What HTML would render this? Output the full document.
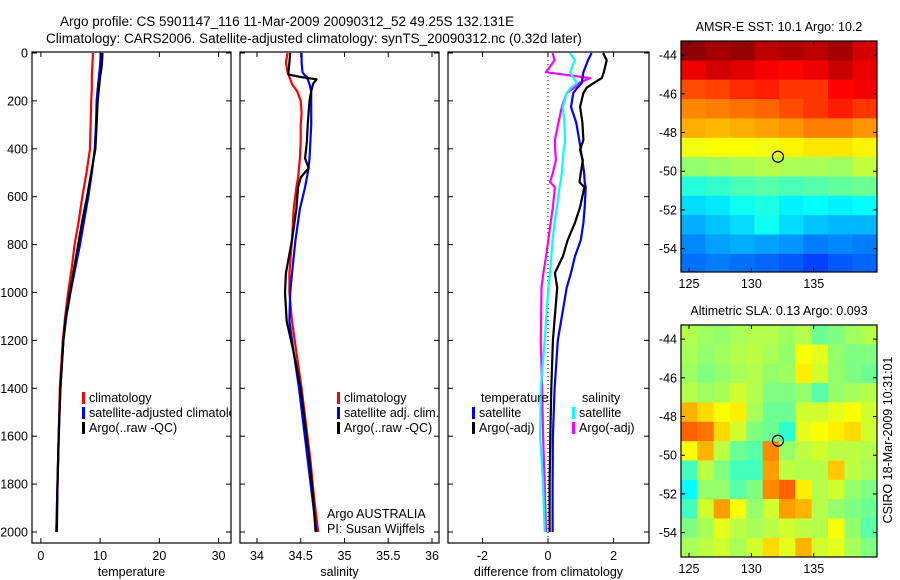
<!DOCTYPE html>
<html><head><meta charset="utf-8"><style>
body{margin:0;background:#fff;}
svg{display:block;font-family:"Liberation Sans",sans-serif;}
</style></head><body>
<svg id="fig" width="900" height="580" viewBox="0 0 900 580">
<rect width="900" height="580" fill="#fff"/>
<text x="60" y="26" font-size="13.5">Argo profile: CS 5901147_116 11-Mar-2009 20090312_52 49.25S 132.131E</text>
<text x="46" y="43" font-size="13.5">Climatology: CARS2006. Satellite-adjusted climatology: synTS_20090312.nc (0.32d later)</text>
<g id="maps"></g>
<g id="panels"></g>
</svg>
<script>
// ---- data ----
const tempDepth=[0,50,100,150,200,300,400,500,600,700,800,900,1000,1100,1200,1400,1600,1800,2000];
const tempClim=[8.8,8.7,8.6,8.6,8.5,8.4,8.3,7.7,7.0,6.4,5.7,5.2,4.6,4.1,3.7,3.2,3.0,2.8,2.6];
const tempSat=[10.1,10.0,9.8,9.6,9.4,9.3,9.1,8.6,8.0,7.3,6.6,5.8,5.0,4.3,3.8,3.3,3.0,2.8,2.6];
const tempArgo=[10.4,10.3,10.0,9.8,9.6,9.4,9.2,8.5,7.8,7.0,6.3,5.6,4.9,4.2,3.8,3.3,3.0,2.8,2.7];
const salDepth=[0,40,80,90,100,110,130,160,200,250,300,370,440,480,520,560,650,780,920,1000,1120,1250,1400,1550,1700,1850,2000];
const salClim=[34.35,34.33,34.35,34.36,34.37,34.38,34.40,34.46,34.50,34.51,34.50,34.50,34.49,34.48,34.47,34.45,34.42,34.40,34.37,34.37,34.40,34.45,34.51,34.56,34.61,34.65,34.70];
const salSat=[34.51,34.51,34.52,34.54,34.57,34.58,34.60,34.62,34.62,34.62,34.62,34.61,34.60,34.59,34.57,34.55,34.49,34.44,34.40,34.38,34.37,34.42,34.48,34.53,34.58,34.63,34.68];
const salArgo=[34.38,34.37,34.36,34.36,34.50,34.68,34.64,34.62,34.60,34.59,34.58,34.57,34.55,34.59,34.50,34.47,34.45,34.40,34.33,34.32,34.34,34.42,34.50,34.55,34.60,34.64,34.67];
const diffDepth=[0,30,80,105,125,145,167,225,290,363,405,447,500,539,560,643,710,781,850,918,980,1200,1400,1600,1800,2000];
const diffTempSat=[1.33,1.22,1.08,1.05,1.03,0.90,0.77,0.70,0.86,0.95,1.00,1.05,1.10,1.12,1.15,1.12,1.08,1.00,0.82,0.70,0.57,0.30,0.20,0.15,0.14,0.14];
const diffTempArgo=[1.68,1.79,1.70,1.64,1.40,1.18,1.08,0.98,1.05,1.08,0.98,1.06,1.00,0.96,1.11,0.98,0.82,0.60,0.45,0.21,0.28,0.15,0.10,0.07,0.05,0.05];
const diffSalSat=[0.67,0.82,0.67,0.78,0.88,0.70,0.57,0.45,0.50,0.52,0.48,0.45,0.42,0.38,0.35,0.27,0.20,0.14,0.10,0.06,0.01,-0.10,-0.22,-0.24,-0.15,-0.10];
const diffSalArgo=[0.14,0.20,-0.06,1.28,0.95,0.80,0.57,0.42,0.32,0.21,0.22,0.24,0.15,0.06,0.21,0.15,0.08,0.01,-0.06,-0.14,-0.20,-0.22,-0.18,-0.15,-0.10,-0.06];
const depthTicks=[0,200,400,600,800,1000,1200,1400,1600,1800,2000];
const tempTicks=[0,10,20,30];
const salTicks=[34,34.5,35,35.5,36];
const diffTicks=[-2,0,2];
const sstGrid=[
[14.4,14.2,14.3,14.0,14.1,14.0,14.2,13.8],
[13.6,13.8,13.7,13.5,13.4,13.6,13.9,13.6],
[12.8,12.9,13.1,13.2,13.0,13.0,13.4,13.5],
[12.3,12.4,12.5,12.6,12.8,13.0,13.2,13.0],
[12.0,11.9,12.0,12.1,12.2,12.4,12.4,12.2],
[11.2,11.3,11.3,11.2,11.4,11.5,11.5,11.4],
[10.4,10.5,10.6,10.7,10.6,10.6,10.5,10.8],
[9.5,9.6,9.8,9.9,9.8,9.9,10.0,10.1],
[8.9,9.0,9.3,9.4,9.1,9.2,9.1,9.2],
[8.5,8.7,8.9,9.3,8.9,8.7,8.6,8.6],
[8.2,8.4,8.5,8.4,8.3,8.1,8.2,8.1],
[8.0,8.1,8.0,7.9,7.8,7.6,7.8,7.9]];
const slaGrid=[
[55,53,52,54,55,55,53,55,48,50,53,55],
[54,52,53,55,56,54,52,62,60,52,50,50],
[53,50,52,54,55,52,53,64,58,52,50,48],
[55,53,54,58,55,50,50,52,46,52,54,55],
[70,66,62,64,54,48,48,58,58,60,62,58],
[78,76,66,58,50,48,42,60,62,64,66,58],
[62,70,56,48,46,74,52,56,58,56,56,55],
[44,56,50,44,44,72,56,55,55,68,56,54],
[38,52,52,46,50,74,78,64,55,58,52,50],
[44,58,72,62,52,58,72,70,55,52,50,48],
[50,54,60,56,54,56,58,56,55,62,52,46],
[54,56,58,54,58,66,60,70,58,60,54,50]];
const lonTicks=[125,130,135];
const latTicks=[-44,-46,-48,-50,-52,-54];
const floatLon=132.131, floatLat=-49.25;

const NS="http://www.w3.org/2000/svg";
function el(tag,attrs,parent,txt){const e=document.createElementNS(NS,tag);for(const k in attrs)e.setAttribute(k,attrs[k]);if(txt!==undefined)e.textContent=txt;parent.appendChild(e);return e;}
function jet(x){x=Math.max(0,Math.min(1,x));const c=v=>Math.round(255*Math.max(0,Math.min(1,1.5-Math.abs(v))));return `rgb(${c(4*x-3)},${c(4*x-2)},${c(4*x-1)})`;}

const panelsG=document.getElementById('panels');
const TOP=52,BOT=543;
const yD=d=>53+d*0.2395;

function panel(name,x0,x1,vmin,vmax,ticks,label,series,showY){
  const g=el('g',{},panelsG);
  
  
  const xs=v=>x0+(v-vmin)/(vmax-vmin)*(x1-x0);
  const cp=el('clipPath',{id:'c'+name},g);el('rect',{x:x0,y:TOP,width:x1-x0,height:BOT-TOP},cp);
  const sg=el('g',{'clip-path':`url(#c${name})`},g);
  series.forEach(s=>{
    const pts=s.vals.map((v,i)=>xs(v).toFixed(1)+','+yD(s.depth[i]).toFixed(1)).join(' ');
    const p=el('polyline',{points:pts,fill:'none',stroke:s.color,'stroke-width':2.2,'stroke-linejoin':'round'},sg);
    
    
  });
  el('rect',{x:x0,y:TOP,width:x1-x0,height:BOT-TOP,fill:'none',stroke:'#000','stroke-width':1.2},g);
  ticks.forEach(t=>{const x=xs(t);
    el('line',{x1:x,x2:x,y1:TOP,y2:TOP+5,stroke:'#000'},g);
    el('line',{x1:x,x2:x,y1:BOT,y2:BOT-5,stroke:'#000'},g);
    const tl=el('text',{x:x,y:560,'font-size':12.5,'text-anchor':'middle'},g,String(t));
    
    
  });
  depthTicks.forEach(d=>{const y=yD(d);
    el('line',{x1:x0,x2:x0+5,y1:y,y2:y,stroke:'#000'},g);
    el('line',{x1:x1,x2:x1-5,y1:y,y2:y,stroke:'#000'},g);
    if(showY){const t=el('text',{x:x0-4,y:y+4.5,'font-size':12.5,'text-anchor':'end'},g,String(d));
      
      }
  });
  const xl=el('text',{x:(x0+x1)/2,y:576,'font-size':12.5,'text-anchor':'middle'},g,label);
  
  
  return {g,xs};
}
const p1=panel('temperature-panel',32,231,-1.5,32.1,tempTicks,'temperature',[
 {name:'temp-climatology-line',depth:tempDepth,vals:tempClim,color:'#f00'},
 {name:'temp-satellite-line',depth:tempDepth,vals:tempSat,color:'#00f'},
 {name:'temp-argo-line',depth:tempDepth,vals:tempArgo,color:'#000'}],true);
const p2=panel('salinity-panel',240,439,33.806,36.08,salTicks,'salinity',[
 {name:'sal-climatology-line',depth:salDepth,vals:salClim,color:'#f00'},
 {name:'sal-satellite-line',depth:salDepth,vals:salSat,color:'#00f'},
 {name:'sal-argo-line',depth:salDepth,vals:salArgo,color:'#000'}],false);
const p3=panel('difference-panel',448,649,-3.05,3.08,diffTicks,'difference from climatology',[],false);
el('line',{x1:p3.xs(0),x2:p3.xs(0),y1:TOP,y2:BOT,stroke:'#000','stroke-dasharray':'1,3'},p3.g);
const sg3=el('g',{'clip-path':'url(#cdifference-panel)'},p3.g);
[[diffSalArgo,'#f0f','diff-sal-argo-line'],[diffSalSat,'#0ff','diff-sal-satellite-line'],[diffTempSat,'#00f','diff-temp-satellite-line'],[diffTempArgo,'#000','diff-temp-argo-line']].forEach(s=>{
  const pts=s[0].map((v,i)=>p3.xs(v).toFixed(1)+','+yD(diffDepth[i]).toFixed(1)).join(' ');
  const p=el('polyline',{points:pts,fill:'none',stroke:s[1],'stroke-width':2.2,'stroke-linejoin':'round'},sg3);
  
  
});

function legendEntry(parent,x,y,color,label){
  const g=el('g',{},parent);
  
  
  el('rect',{x:x,y:y-10,width:3,height:12,fill:color},g);
  el('text',{x:x+7,y:y,'font-size':12.5},g,label);
  return g;
}
const leg1=el('g',{'clip-path':'url(#ctemperature-panel)'},panelsG);
legendEntry(leg1,82,402,'#f00','climatology');
legendEntry(leg1,82,417,'#00f','satellite-adjusted climatology');
legendEntry(leg1,82,432,'#000','Argo(..raw -QC)');
legendEntry(panelsG,337,402,'#f00','climatology');
legendEntry(panelsG,337,417,'#00f','satellite adj. clim.');
legendEntry(panelsG,337,432,'#000','Argo(..raw -QC)');
el('text',{x:481,y:402,'font-size':12.5},panelsG,'temperature');
el('text',{x:582,y:402,'font-size':12.5},panelsG,'salinity');
legendEntry(panelsG,472,417,'#00f','satellite');
legendEntry(panelsG,472,432,'#000','Argo(-adj)');
legendEntry(panelsG,572,417,'#0ff','satellite');
legendEntry(panelsG,572,432,'#f0f','Argo(-adj)');
el('text',{x:327,y:518,'font-size':12.5},panelsG,'Argo AUSTRALIA');
el('text',{x:327,y:533,'font-size':12.5},panelsG,'PI: Susan Wijffels');

// ---- maps ----
const mapsG=document.getElementById('maps');
function map(name,top,bot,title,grid,colorFn){
  const L=681,R=877,lonMin=124.36,lonMax=140.07;
  const latTop=-43.27,pxDeg=19.35;
  const xs=lo=>L+(lo-lonMin)/(lonMax-lonMin)*(R-L);
  const ys=la=>top+(latTop-la)*pxDeg;
  const g=el('g',{},mapsG);
  
  
  const cp=el('clipPath',{id:'c'+name},g);el('rect',{x:L,y:top,width:R-L,height:bot-top},cp);
  const cg=el('g',{'clip-path':`url(#c${name})`},g);
  const nc=grid[0].length;
  const cw=(lonMax-lonMin)/nc;
  grid.forEach((row,i)=>row.forEach((v,j)=>{
    const lo=lonMin+j*cw,la=latTop-i;
    const r=el('rect',{x:xs(lo).toFixed(1),y:ys(la).toFixed(1),width:(xs(lo+cw)-xs(lo)+0.6).toFixed(1),height:(pxDeg+0.6).toFixed(1),fill:colorFn(v)},cg);
    
    
  }));
  el('rect',{x:L,y:top,width:R-L,height:bot-top,fill:'none',stroke:'#000','stroke-width':1.2},g);
  lonTicks.forEach(t=>{const x=xs(t);
    el('line',{x1:x,x2:x,y1:top,y2:top+4,stroke:'#000'},g);
    el('line',{x1:x,x2:x,y1:bot,y2:bot-4,stroke:'#000'},g);
    el('text',{x:x,y:bot+16,'font-size':12.5,'text-anchor':'middle'},g,String(t));});
  latTicks.forEach(t=>{const y=ys(t);
    el('line',{x1:L,x2:L+4,y1:y,y2:y,stroke:'#000'},g);
    el('line',{x1:R,x2:R-4,y1:y,y2:y,stroke:'#000'},g);
    el('text',{x:L-4,y:y+4.5,'font-size':12.5,'text-anchor':'end'},g,String(t));});
  const c=el('circle',{cx:xs(floatLon),cy:ys(floatLat),r:5.5,fill:'none',stroke:'#000','stroke-width':1.2},g);
  
  
  const tt=el('text',{x:(L+R)/2,y:top-10,'font-size':12.5,'text-anchor':'middle'},g,title);
  
  
}
map('sst-map',41,272,'AMSR-E SST: 10.1 Argo: 10.2',sstGrid,v=>jet((v-6)/(14.5-6)));
map('sla-map',325,557,'Altimetric SLA: 0.13 Argo: 0.093',slaGrid,v=>jet(v/100));
const st=el('text',{x:0,y:0,'font-size':12.5,'text-anchor':'middle',transform:'translate(892,440) rotate(-90)'},mapsG,'CSIRO 18-Mar-2009 10:31:01');


</script>
</body></html>
